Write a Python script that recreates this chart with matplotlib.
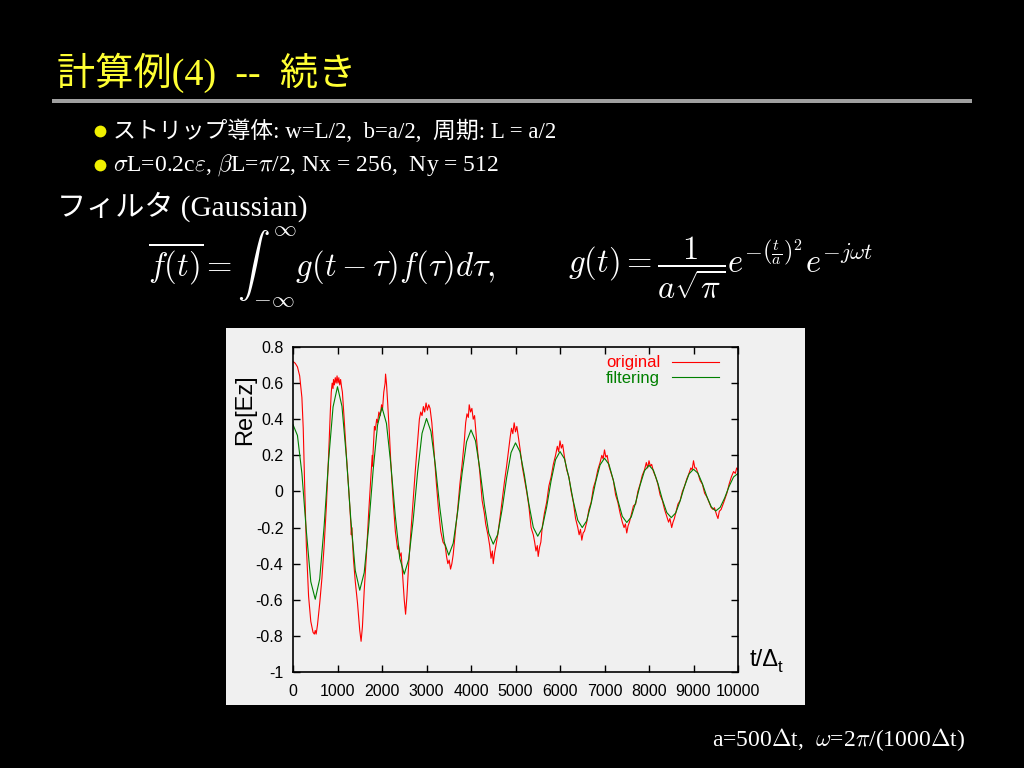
import matplotlib
matplotlib.use("Agg")
import matplotlib.pyplot as plt
from matplotlib.patches import Rectangle
from matplotlib.lines import Line2D

plt.rcParams['mathtext.fontset'] = 'cm'

# ---- data ----
green_t = list(range(0, 10001, 100))
green_v = [0.37, 0.31, 0.10, -0.22, -0.50, -0.597, -0.485, -0.19, 0.173, 0.468,
           0.58, 0.472, 0.19, -0.158, -0.439, -0.547, -0.45, -0.197, 0.115, 0.368,
           0.465, 0.377, 0.146, -0.139, -0.37, -0.458, -0.376, -0.16, 0.106, 0.322,
           0.404, 0.332, 0.142, -0.091, -0.281, -0.353, -0.287, -0.113, 0.101, 0.275,
           0.341, 0.281, 0.122, -0.073, -0.232, -0.292, -0.238, -0.098, 0.075, 0.215,
           0.269, 0.22, 0.09, -0.069, -0.199, -0.248, -0.203, -0.086, 0.059, 0.176,
           0.221, 0.181, 0.076, -0.055, -0.16, -0.2, -0.163, -0.067, 0.051, 0.147,
           0.184, 0.15, 0.061, -0.049, -0.138, -0.172, -0.142, -0.062, 0.035, 0.115,
           0.145, 0.117, 0.045, -0.045, -0.117, -0.145, -0.119, -0.052, 0.03, 0.097,
           0.123, 0.101, 0.043, -0.028, -0.086, -0.108, -0.088, -0.036, 0.028, 0.08,
           0.10]

red_pts = [(0, 0.72), (50, 0.71), (100, 0.69), (150, 0.64), (200, 0.52), (230, 0.35),
           (260, 0.05), (300, -0.30), (350, -0.58), (400, -0.72), (450, -0.78), (480, -0.79),
           (500, -0.77), (520, -0.79), (550, -0.74), (600, -0.62), (650, -0.48), (700, -0.30),
           (750, -0.08), (800, 0.20), (840, 0.45), (860, 0.55), (880, 0.60), (900, 0.57),
           (910, 0.62), (930, 0.59), (950, 0.63), (970, 0.60), (990, 0.64), (1010, 0.60),
           (1030, 0.63), (1050, 0.59), (1070, 0.62), (1090, 0.58), (1110, 0.55),
           (1150, 0.40), (1200, 0.20), (1250, 0.02), (1300, -0.18), (1310, -0.24), (1320, -0.20),
           (1360, -0.38), (1400, -0.50), (1450, -0.62), (1500, -0.77), (1530, -0.83),
           (1560, -0.75), (1600, -0.55), (1650, -0.35), (1700, -0.12), (1750, 0.08),
           (1780, 0.20), (1790, 0.14), (1800, 0.22), (1830, 0.36), (1850, 0.34), (1880, 0.40),
           (1900, 0.38), (1930, 0.44), (1960, 0.42), (1990, 0.48), (2010, 0.45), (2040, 0.55),
           (2070, 0.60), (2080, 0.65), (2100, 0.60), (2130, 0.48), (2170, 0.30), (2200, 0.15),
           (2250, -0.05), (2300, -0.22), (2330, -0.28), (2350, -0.32), (2370, -0.30),
           (2400, -0.36), (2430, -0.34), (2460, -0.45), (2500, -0.60), (2530, -0.68),
           (2560, -0.58), (2600, -0.40), (2650, -0.22), (2700, -0.05), (2750, 0.12),
           (2800, 0.28), (2840, 0.40), (2870, 0.44), (2900, 0.42), (2930, 0.47), (2960, 0.44),
           (2990, 0.49), (3020, 0.45), (3050, 0.48), (3080, 0.46), (3120, 0.38), (3170, 0.22),
           (3220, 0.05), (3270, -0.10), (3320, -0.22), (3370, -0.28), (3420, -0.30),
           (3450, -0.36), (3480, -0.40), (3510, -0.38), (3540, -0.43), (3570, -0.40),
           (3600, -0.35), (3650, -0.22), (3700, -0.10), (3750, 0.04), (3800, 0.15),
           (3850, 0.28), (3880, 0.38), (3910, 0.43), (3940, 0.41), (3960, 0.48), (3990, 0.44),
           (4020, 0.46), (4050, 0.40), (4080, 0.42), (4110, 0.33), (4150, 0.22), (4200, 0.10),
           (4250, -0.05), (4300, -0.12), (4330, -0.18), (4380, -0.24), (4420, -0.30),
           (4450, -0.37), (4480, -0.33), (4500, -0.40), (4530, -0.34), (4560, -0.30),
           (4600, -0.24), (4650, -0.15), (4700, -0.05), (4750, 0.05), (4800, 0.14),
           (4850, 0.24), (4880, 0.30), (4910, 0.35), (4940, 0.32), (4970, 0.38), (5000, 0.33),
           (5030, 0.36), (5060, 0.31), (5100, 0.24), (5150, 0.14), (5200, 0.07), (5250, 0.00),
           (5300, -0.08), (5350, -0.20), (5400, -0.24), (5430, -0.28), (5460, -0.33),
           (5490, -0.30), (5510, -0.36), (5540, -0.31), (5570, -0.28), (5600, -0.20),
           (5650, -0.12), (5700, -0.06), (5750, 0.03), (5800, 0.08), (5850, 0.15), (5900, 0.20),
           (5940, 0.25), (5970, 0.22), (6000, 0.28), (6030, 0.24), (6060, 0.26), (6100, 0.19),
           (6150, 0.12), (6200, 0.08), (6250, 0.00), (6300, -0.06), (6350, -0.15), (6400, -0.20),
           (6430, -0.24), (6460, -0.21), (6490, -0.27), (6520, -0.23), (6550, -0.22),
           (6600, -0.17), (6650, -0.10), (6700, -0.06), (6750, 0.02), (6800, 0.06), (6850, 0.12),
           (6900, 0.16), (6940, 0.20), (6970, 0.18), (7000, 0.23), (7030, 0.19), (7060, 0.20),
           (7100, 0.14), (7150, 0.10), (7200, 0.06), (7250, -0.02), (7300, -0.06), (7350, -0.12),
           (7400, -0.17), (7440, -0.20), (7470, -0.18), (7500, -0.23), (7530, -0.19),
           (7560, -0.17), (7600, -0.13), (7650, -0.08), (7700, -0.07), (7750, 0.00), (7800, 0.04),
           (7850, 0.09), (7900, 0.12), (7940, 0.16), (7970, 0.13), (8000, 0.17), (8030, 0.14),
           (8060, 0.15), (8100, 0.11), (8150, 0.08), (8200, 0.04), (8250, -0.02), (8300, -0.05),
           (8350, -0.10), (8400, -0.14), (8440, -0.17), (8470, -0.15), (8510, -0.20),
           (8540, -0.17), (8570, -0.15), (8600, -0.12), (8650, -0.07), (8700, -0.05),
           (8750, 0.00), (8800, 0.03), (8850, 0.07), (8900, 0.10), (8940, 0.13), (8970, 0.12),
           (9000, 0.17), (9030, 0.13), (9060, 0.13), (9100, 0.10), (9150, 0.06), (9200, 0.04),
           (9250, -0.01), (9300, -0.03), (9350, -0.06), (9400, -0.09), (9440, -0.10),
           (9470, -0.09), (9520, -0.13), (9550, -0.15), (9580, -0.11), (9620, -0.10),
           (9680, -0.06), (9750, -0.01), (9800, 0.04), (9850, 0.08), (9900, 0.11), (9940, 0.10),
           (9970, 0.13), (10000, 0.12)]
red_t = [p[0] for p in red_pts]
red_v = [p[1] for p in red_pts]

xticks = [0, 1000, 2000, 3000, 4000, 5000, 6000, 7000, 8000, 9000, 10000]
yticks = [-1, -0.8, -0.6, -0.4, -0.2, 0, 0.2, 0.4, 0.6, 0.8]
ytick_labels = ['-1', '-0.8', '-0.6', '-0.4', '-0.2', '0', '0.2', '0.4', '0.6', '0.8']

W, H = 1024, 768
def fx(px):
    return px / W
def fy(py):
    return 1 - py / H

serif_jp = ['Liberation Serif', 'Noto Sans CJK JP']
yellow = '#ffff33'

fig = plt.figure(figsize=(10.24, 7.68), dpi=100, facecolor='black')

# ---- slide text ----
fig.text(fx(57), fy(73), '計算例(4)  --  続き', color=yellow, fontsize=27.5,
         family=serif_jp, va='center', ha='left')
fig.add_artist(Rectangle((fx(52), fy(103)), fx(972) - fx(52), 4 / H,
                         transform=fig.transFigure, color='#a0a0a0', lw=0))

for yy in (131, 165):
    fig.add_artist(Line2D([fx(100)], [fy(yy)], transform=fig.transFigure, marker='o',
                          markersize=8.5, color='#f0f000', markeredgewidth=0, linestyle='none'))
fig.text(fx(113), fy(131), 'ストリップ導体: w=L/2,  b=a/2,  周期: L = a/2', color='white',
         fontsize=16.5, family=serif_jp, va='center', ha='left')
fig.text(fx(113), fy(165), r'$\sigma$L=0.2c$\varepsilon$, $\beta$L=$\pi$/2, Nx = 256,  Ny = 512',
         color='white', fontsize=17, family='Liberation Serif', va='center', ha='left')
fig.text(fx(57), fy(207), 'フィルタ (Gaussian)', color='white', fontsize=21,
         family=serif_jp, va='center', ha='left')

fig.text(fx(148), fy(268), r'$\overline{f(t)} = \int_{-\infty}^{\infty} g(t-\tau)f(\tau)d\tau,$',
         color='white', fontsize=23.5, va='center', ha='left')
fig.text(fx(568), fy(268), r'$g(t) = \dfrac{1}{a\sqrt{\pi}}e^{-\left(\frac{t}{a}\right)^2}e^{-j\omega t}$',
         color='white', fontsize=23.5, va='center', ha='left')

fig.text(fx(965), fy(740), r'a=500$\Delta$t,  $\omega$=2$\pi$/(1000$\Delta$t)', color='white',
         fontsize=17, family='Liberation Serif', va='center', ha='right')

# ---- plot panel ----
fig.add_artist(Rectangle((fx(226), fy(705)), fx(805) - fx(226), 377 / H,
                         transform=fig.transFigure, color='#f0f0f0', lw=0, zorder=0))

ax = fig.add_axes([fx(293), fy(672), fx(738) - fx(293), 325 / H])
ax.set_facecolor('none')
ax.plot(red_t, red_v, color='#ff0000', lw=0.8, label='original')
ax.plot(green_t, green_v, color='#008000', lw=0.8, label='filtering')
ax.set_xlim(0, 10000)
ax.set_ylim(-1, 0.8)
ax.set_xticks(xticks)
ax.set_xticklabels([str(v) for v in xticks])
ax.set_yticks(yticks)
ax.set_yticklabels(ytick_labels)
ax.tick_params(direction='in', top=True, right=True, length=5, width=1,
               labelsize=11.5, pad=7, colors='black')
ax.tick_params(axis='x', pad=9)
for lab in ax.get_xticklabels() + ax.get_yticklabels():
    lab.set_family('Liberation Sans')
for sp in ax.spines.values():
    sp.set_linewidth(1.2)

leg = ax.legend(loc='upper right', bbox_to_anchor=(0.975, 1.0), frameon=False,
                markerfirst=False, labelcolor='linecolor', handlelength=2.8,
                labelspacing=0.05, handletextpad=0.7, borderpad=0,
                prop={'family': 'Liberation Sans', 'size': 12})

fig.text(fx(245), fy(410), 'Re[Ez]', rotation=90, fontsize=17, family='Liberation Sans',
         color='black', va='center', ha='center')
fig.text(fx(750), fy(660), 't/Δ', fontsize=17, family='Liberation Sans',
         color='black', va='center', ha='left')
fig.text(fx(778), fy(668), 't', fontsize=12, family='Liberation Sans',
         color='black', va='center', ha='left')

fig.savefig('out.png', dpi=100, facecolor='black')
